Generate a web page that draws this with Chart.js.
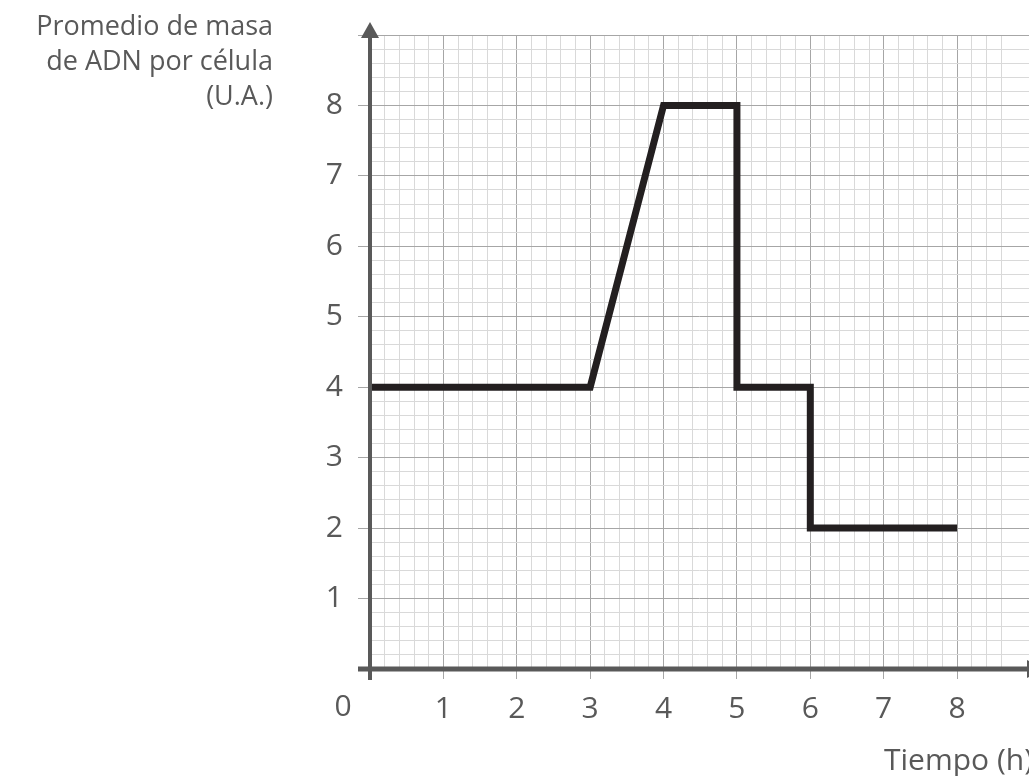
<!DOCTYPE html>
<html>
<head>
<meta charset="utf-8">
<script src="https://cdn.jsdelivr.net/npm/chart.js@4"></script>
<style>
  html, body { margin: 0; padding: 0; background: #fff; overflow: hidden; }
  canvas { display: block; }
</style>
</head>
<body>
<canvas id="chart" width="1029" height="776"></canvas>
<script>
// data
const tiempo = [0, 3, 4, 5, 5, 6, 6, 8];
const masaADN = [4, 4, 8, 8, 4, 4, 2, 2];
const xTicks = [1, 2, 3, 4, 5, 6, 7, 8];
const yTicks = [1, 2, 3, 4, 5, 6, 7, 8];
const yTitle = ["Promedio de masa", "de ADN por célula", "(U.A.)"];
const xTitle = "Tiempo (h)";
const originLabel = "0";

const textColor = "#595959";
const axisColor = "#595959";
const font = "Open Sans";

const isMajor = (v) => Math.abs(v - Math.round(v)) < 1e-6;
const gridColor = (ctx) => isMajor(ctx.tick.value) ? "#a6a6a6" : "#d9d9d9";
const tickColor = (ctx) => isMajor(ctx.tick.value) ? "#a6a6a6" : "rgba(0,0,0,0)";

const decorations = {
  id: "decorations",
  afterDatasetsDraw(chart) {
    const { ctx, scales: { x, y } } = chart;
    const x0 = x.getPixelForValue(0);
    const y0 = y.getPixelForValue(0);
    ctx.save();
    ctx.strokeStyle = axisColor;
    ctx.fillStyle = axisColor;

    // y axis + arrow
    ctx.lineWidth = 4;
    ctx.beginPath();
    ctx.moveTo(x0, y0 + 11);
    ctx.lineTo(x0, 36);
    ctx.stroke();
    ctx.beginPath();
    ctx.moveTo(x0, 22);
    ctx.lineTo(x0 - 9, 38);
    ctx.lineTo(x0 + 9, 38);
    ctx.closePath();
    ctx.fill();

    // x axis + arrow
    ctx.lineWidth = 5;
    ctx.beginPath();
    ctx.moveTo(x0 - 12, y0);
    ctx.lineTo(1030, y0);
    ctx.stroke();
    ctx.beginPath();
    ctx.moveTo(1044, y0);
    ctx.lineTo(1027, y0 - 9);
    ctx.lineTo(1027, y0 + 9);
    ctx.closePath();
    ctx.fill();

    // texts
    ctx.fillStyle = textColor;
    ctx.font = "27px '" + font + "'";
    ctx.textAlign = "right";
    ctx.textBaseline = "alphabetic";
    yTitle.forEach((line, i) => ctx.fillText(line, 273, 35 + i * 35));

    ctx.font = "30px '" + font + "'";
    ctx.textAlign = "left";
    ctx.fillText(xTitle, 884, 770);

    ctx.textAlign = "center";
    ctx.textBaseline = "middle";
    ctx.fillText(originLabel, 343, 707);
    ctx.restore();
  }
};

new Chart(document.getElementById("chart"), {
  type: "line",
  data: {
    datasets: [{
      data: tiempo.map((t, i) => ({ x: t, y: masaADN[i] })),
      borderColor: "#231f20",
      borderWidth: 7,
      borderJoinStyle: "miter",
      borderCapStyle: "butt",
      pointRadius: 0,
      tension: 0,
      fill: false
    }]
  },
  options: {
    responsive: false,
    animation: false,
    layout: { padding: { left: 0, right: 0, top: 35, bottom: 0 } },
    plugins: { legend: { display: false }, tooltip: { enabled: false } },
    scales: {
      x: {
        type: "linear",
        min: 0,
        max: 8.98,
        afterFit: (s) => {
          s.height = 107;
          s.paddingLeft = 0;
          s.paddingRight = 0;
        },
        border: { display: false },
        grid: { color: gridColor, tickColor: tickColor, tickLength: 10, lineWidth: 1 },
        ticks: {
          stepSize: 0.2,
          autoSkip: false,
          maxRotation: 0,
          padding: 12,
          color: textColor,
          font: { family: font, size: 30 },
          callback: (v) => {
            const r = Math.round(v);
            return isMajor(v) && xTicks.includes(r) ? String(r) : "";
          }
        }
      },
      y: {
        type: "linear",
        min: 0,
        max: 9,
        afterFit: (s) => {
          s.width = 370;
          s.paddingTop = 0;
          s.paddingBottom = 0;
        },
        border: { display: false },
        grid: { color: gridColor, tickColor: tickColor, tickLength: 12, lineWidth: 1 },
        ticks: {
          stepSize: 0.2,
          autoSkip: false,
          padding: 15,
          color: textColor,
          font: { family: font, size: 30 },
          callback: (v) => {
            const r = Math.round(v);
            return isMajor(v) && yTicks.includes(r) ? String(r) : "";
          }
        }
      }
    }
  },
  plugins: [decorations]
});
</script>
</body>
</html>
